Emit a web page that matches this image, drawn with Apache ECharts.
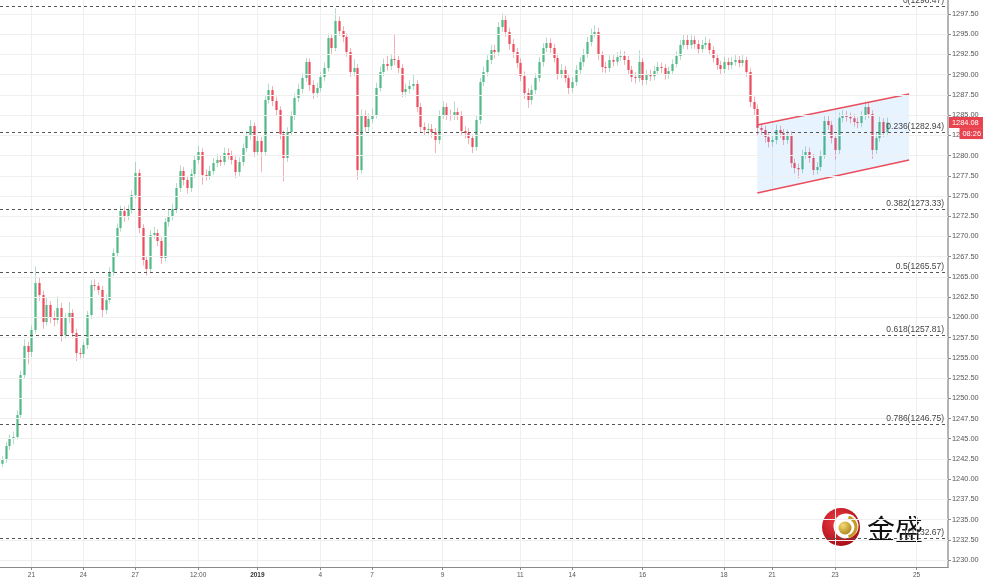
<!DOCTYPE html>
<html><head><meta charset="utf-8">
<script src="https://cdn.jsdelivr.net/npm/echarts@6/dist/echarts.min.js"></script>
<style>html,body{margin:0;padding:0;background:#fff}#c{width:983px;height:583px}</style>
</head><body><div id="c"></div>
<script>
const opens = [
1241.90,1242.36,1244.10,1244.96,1245.21,1247.93,1252.87,1256.46,1255.72,1258.44,
1264.25,1262.76,1259.42,1261.53,1259.92,1259.67,1261.15,1257.82,1259.92,1260.54,
1258.06,1255.59,1255.47,1256.58,1260.29,1264.00,1263.87,1263.38,1260.91,1262.14,
1265.61,1267.95,1271.04,1273.15,1272.53,1273.27,1275.12,1277.84,1271.04,1267.09,
1265.98,1270.18,1270.43,1269.44,1267.34,1271.79,1272.53,1273.39,1275.99,1278.09,
1276.98,1275.99,1277.72,1279.45,1280.44,1277.60,1277.47,1278.09,1279.08,1279.45,
1279.20,1280.32,1280.07,1279.45,1277.97,1279.20,1280.93,1282.42,1283.65,1280.44,
1281.80,1280.44,1286.87,1288.10,1286.74,1285.63,1282.66,1279.70,1282.91,1284.89,
1287.12,1288.23,1289.59,1291.57,1288.72,1287.73,1288.35,1289.71,1290.82,1294.53,
1293.30,1296.63,1295.40,1294.66,1292.80,1290.33,1290.82,1278.21,1285.01,1283.53,
1284.52,1285.01,1288.35,1290.33,1291.32,1291.07,1291.94,1291.81,1290.82,1287.86,
1288.23,1288.60,1288.85,1286.00,1283.53,1283.16,1283.28,1282.91,1281.92,1285.01,
1286.00,1285.01,1284.89,1285.38,1285.01,1283.04,1282.79,1282.17,1281.06,1284.40,
1289.09,1290.33,1291.81,1293.05,1292.80,1295.89,1296.76,1295.27,1293.79,1292.80,
1291.44,1289.83,1287.73,1286.87,1288.10,1289.59,1291.57,1293.30,1293.91,1293.30,
1292.06,1290.08,1290.58,1289.59,1288.35,1289.09,1290.58,1291.57,1292.55,1294.04,
1295.03,1295.27,1292.43,1290.95,1290.82,1291.81,1291.60,1292.18,1292.31,1291.81,
1290.58,1289.71,1289.59,1291.57,1289.34,1289.96,1289.80,1290.45,1290.95,1290.82,
1289.96,1290.45,1291.32,1292.31,1293.67,1294.29,1293.67,1294.29,1293.79,1293.17,
1293.67,1293.91,1293.05,1292.06,1291.19,1290.70,1291.57,1291.19,1291.57,1291.81,
1291.44,1291.81,1290.33,1286.62,1285.76,1283.41,1283.16,1282.29,1281.68,1281.92,
1283.16,1282.79,1281.92,1282.54,1279.08,1278.46,1278.30,1280.07,1280.44,1279.70,
1278.21,1278.59,1280.07,1284.27,1283.78,1282.17,1280.69,1284.64,1284.89,1284.77,
1284.60,1284.15,1284.02,1284.89,1286.00,1285.14,1280.69,1282.17,1284.15,1282.91
];
const closes = [
1242.36,1244.10,1244.96,1245.21,1247.93,1252.87,1256.46,1255.72,1258.44,1264.25,
1262.76,1259.42,1261.53,1259.92,1259.67,1261.15,1257.82,1259.92,1260.54,1258.06,
1255.59,1255.47,1256.58,1260.29,1264.00,1263.87,1263.38,1260.91,1262.14,1265.61,
1267.95,1271.04,1273.15,1272.53,1273.27,1275.12,1277.84,1271.04,1267.09,1265.98,
1270.18,1270.43,1269.44,1267.34,1271.79,1272.53,1273.39,1275.99,1278.09,1276.98,
1275.99,1277.72,1279.45,1280.44,1277.60,1277.47,1278.09,1279.08,1279.45,1279.20,
1280.32,1280.07,1279.45,1277.97,1279.20,1280.93,1282.42,1283.65,1280.44,1281.80,
1280.44,1286.87,1288.10,1286.74,1285.63,1282.66,1279.70,1282.91,1284.89,1287.12,
1288.23,1289.59,1291.57,1288.72,1287.73,1288.35,1289.71,1290.82,1294.53,1293.30,
1296.63,1295.40,1294.66,1292.80,1290.33,1290.82,1278.21,1285.01,1283.53,1284.52,
1285.01,1288.35,1290.33,1291.32,1291.07,1291.94,1291.81,1290.82,1287.86,1288.23,
1288.60,1288.85,1286.00,1283.53,1283.16,1283.28,1282.91,1281.92,1285.01,1286.00,
1285.01,1284.89,1285.38,1285.01,1283.04,1282.79,1282.17,1281.06,1284.40,1289.09,
1290.33,1291.81,1293.05,1292.80,1295.89,1296.76,1295.27,1293.79,1292.80,1291.44,
1289.83,1287.73,1286.87,1288.10,1289.59,1291.57,1293.30,1293.91,1293.30,1292.06,
1290.08,1290.58,1289.59,1288.35,1289.09,1290.58,1291.57,1292.55,1294.04,1295.03,
1295.27,1292.43,1290.95,1290.82,1291.81,1291.60,1292.18,1292.31,1291.81,1290.58,
1289.71,1289.59,1291.57,1289.34,1289.96,1289.80,1290.45,1290.95,1290.82,1289.96,
1290.45,1291.32,1292.31,1293.67,1294.29,1293.67,1294.29,1293.79,1293.17,1293.67,
1293.91,1293.05,1292.06,1291.19,1290.70,1291.57,1291.19,1291.57,1291.81,1291.44,
1291.81,1290.33,1286.62,1285.76,1283.41,1283.16,1282.29,1281.68,1281.92,1283.16,
1282.79,1281.92,1282.54,1279.08,1278.46,1278.30,1280.07,1280.44,1279.70,1278.21,
1278.59,1280.07,1284.27,1283.78,1282.17,1280.69,1284.64,1284.89,1284.77,1284.60,
1284.15,1284.02,1284.89,1286.00,1285.14,1280.69,1282.17,1284.15,1282.91,1284.08
];
const highs = [
1242.9,1244.6,1245.5,1245.9,1248.5,1253.4,1257.3,1257.0,1259.0,1266.3,
1265.0,1263.3,1262.4,1262.0,1260.8,1262.6,1261.8,1260.5,1261.9,1261.0,
1258.6,1256.2,1257.0,1260.8,1264.6,1264.7,1264.3,1263.9,1262.8,1266.2,
1268.5,1271.6,1273.8,1273.7,1273.9,1275.7,1279.2,1278.3,1271.5,1267.6,
1270.8,1271.2,1270.9,1269.9,1272.3,1273.3,1274.0,1276.6,1278.8,1278.6,
1277.5,1278.3,1280.0,1281.2,1280.9,1278.3,1278.7,1279.7,1280.2,1280.0,
1281.0,1280.9,1280.6,1279.9,1279.8,1281.5,1283.0,1284.4,1284.1,1282.4,
1282.3,1287.5,1288.9,1288.6,1287.3,1286.1,1283.1,1283.5,1285.5,1287.7,
1288.9,1290.2,1292.1,1292.0,1289.3,1289.0,1290.3,1291.5,1295.1,1295.0,
1298.2,1297.2,1296.0,1295.1,1293.3,1291.9,1291.3,1285.7,1285.6,1285.2,
1285.8,1289.0,1291.0,1292.0,1292.3,1292.6,1295.0,1292.3,1291.3,1288.9,
1289.3,1290.0,1289.3,1286.5,1284.1,1284.0,1283.9,1283.4,1285.6,1286.7,
1286.5,1285.7,1286.7,1285.9,1285.5,1283.6,1283.4,1282.6,1284.9,1289.6,
1291.0,1292.4,1293.7,1293.7,1296.5,1297.6,1297.3,1295.8,1294.4,1293.3,
1292.0,1290.4,1288.3,1288.7,1290.2,1292.2,1293.9,1294.6,1294.5,1293.8,
1292.6,1291.3,1291.1,1290.1,1289.7,1291.2,1292.2,1293.2,1294.7,1295.7,
1296.1,1295.8,1292.9,1291.6,1292.4,1292.4,1292.8,1293.0,1292.9,1292.3,
1291.1,1290.3,1293.0,1292.0,1290.6,1290.6,1291.1,1291.6,1291.5,1291.3,
1291.0,1291.9,1292.9,1294.3,1295.0,1294.9,1295.0,1294.8,1294.3,1294.3,
1294.7,1294.4,1293.5,1292.6,1291.7,1292.2,1292.1,1292.2,1292.5,1292.3,
1292.5,1292.2,1290.8,1287.3,1286.3,1284.0,1283.7,1282.8,1282.5,1283.8,
1283.7,1283.3,1283.2,1283.0,1279.6,1279.0,1280.7,1281.1,1281.0,1280.2,
1279.2,1280.6,1284.9,1284.9,1284.3,1282.6,1285.3,1285.6,1285.5,1285.3,
1285.1,1284.7,1285.5,1286.7,1286.5,1285.6,1282.8,1284.8,1284.6,1284.7
];
const lows = [
1241.5,1242.0,1243.6,1244.3,1244.9,1247.5,1252.4,1254.2,1255.1,1258.0,
1262.0,1258.6,1259.0,1259.3,1258.9,1259.2,1257.0,1257.4,1259.3,1257.4,
1254.6,1254.8,1255.0,1256.1,1259.8,1263.3,1262.8,1260.0,1260.4,1261.7,
1265.1,1267.5,1270.6,1271.8,1272.0,1272.8,1274.7,1270.4,1266.4,1265.2,
1265.5,1269.7,1268.8,1266.6,1266.9,1271.2,1272.0,1272.9,1275.5,1276.3,
1275.3,1275.5,1277.2,1279.0,1276.4,1276.9,1277.0,1277.6,1278.6,1278.7,
1278.8,1279.5,1278.9,1277.2,1277.5,1278.7,1280.5,1281.9,1279.8,1280.0,
1278.0,1280.0,1286.4,1286.1,1285.0,1282.0,1276.8,1279.2,1282.4,1284.4,
1286.6,1287.7,1289.1,1288.0,1287.0,1287.2,1287.9,1289.2,1290.4,1292.6,
1292.9,1294.8,1294.0,1292.2,1289.7,1289.8,1277.0,1277.8,1282.9,1283.0,
1284.0,1284.6,1287.9,1289.8,1290.5,1290.6,1291.2,1290.2,1287.2,1287.3,
1287.7,1288.1,1285.4,1282.9,1282.5,1282.6,1282.2,1280.3,1281.4,1284.5,
1284.4,1284.3,1284.4,1284.4,1282.4,1282.1,1281.4,1280.3,1280.6,1283.9,
1288.6,1289.8,1291.3,1292.0,1292.3,1295.3,1294.7,1293.1,1292.1,1290.8,
1289.2,1287.0,1285.9,1286.3,1287.6,1289.1,1291.0,1292.8,1292.7,1291.5,
1289.4,1289.6,1289.0,1287.6,1287.8,1288.6,1290.1,1291.0,1292.1,1293.5,
1294.6,1291.8,1290.3,1290.2,1290.3,1291.0,1291.1,1291.7,1291.2,1290.0,
1289.1,1288.9,1289.1,1288.7,1288.8,1289.2,1289.3,1290.0,1290.2,1289.4,
1289.5,1290.0,1290.9,1291.8,1293.2,1293.1,1293.2,1293.2,1292.6,1292.7,
1293.2,1292.5,1291.5,1290.6,1290.0,1290.2,1290.6,1290.7,1291.1,1290.9,
1291.0,1289.7,1286.0,1284.9,1282.4,1282.5,1281.6,1281.0,1281.1,1281.4,
1282.2,1281.3,1281.4,1278.5,1277.8,1277.2,1277.8,1279.6,1279.1,1277.6,
1277.7,1278.1,1279.6,1283.2,1281.5,1279.5,1280.2,1284.1,1284.2,1284.0,
1283.6,1283.4,1283.5,1284.4,1284.6,1279.6,1280.2,1281.7,1282.3,1282.4
];
const categoryCount = 256;
const xTickIndex = [8, 22, 36, 53, 69, 86, 100, 119, 140, 154, 173, 195, 208, 225, 247];
const xTickLabels = ['21', '24', '27', '12:00', '2019', '4', '7', '9', '11', '14', '16', '18', '21', '23', '25'];
const yTicks = [1230, 1232.5, 1235, 1237.5, 1240, 1242.5, 1245, 1247.5, 1250, 1252.5, 1255, 1257.5, 1260, 1262.5,
  1265, 1267.5, 1270, 1272.5, 1275, 1277.5, 1280, 1282.5, 1285, 1287.5, 1290, 1292.5, 1295, 1297.5];
const yMin = 1229.14, yMax = 1299.23;
const fibRatios = ['0', '0.236', '0.382', '0.5', '0.618', '0.786', '1'];
const fibPrices = [1298.47, 1282.94, 1273.33, 1265.57, 1257.81, 1246.75, 1232.67];
const channelX = [204, 245];
const channelUpper = [1283.78, 1287.61];
const channelLower = [1275.37, 1279.45];
const countdown = '08:26';

const UP = '#53b987', DOWN = '#eb4d5c';
const UP_WICK = 'rgba(83,185,135,0.45)', DOWN_WICK = 'rgba(235,77,92,0.45)';

const categories = Array.from({length: categoryCount}, (_, i) => String(i));
const isTick = (i) => xTickIndex.indexOf(i) >= 0;
const candleData = closes.map((c, i) => [i, opens[i], c, lows[i], highs[i]]);
const lastPrice = closes[closes.length - 1];

const chart = echarts.init(document.getElementById('c'), null, {renderer: 'canvas'});

function renderCandle(params, api) {
  const i = api.value(0), o = api.value(1), c = api.value(2), lo = api.value(3), hi = api.value(4);
  const pO = api.coord([i, o]), pC = api.coord([i, c]);
  const pL = api.coord([i, lo]), pH = api.coord([i, hi]);
  const bw = Math.max(1.5, api.size([1, 0])[0] * 0.6);
  const up = c >= o;
  const x = Math.round(pO[0]) + 0.5;
  const top = Math.min(pO[1], pC[1]);
  const h = Math.max(1, Math.abs(pO[1] - pC[1]));
  return {type: 'group', children: [
    {type: 'line', shape: {x1: x, y1: pH[1], x2: x, y2: pL[1]}, style: {stroke: up ? UP_WICK : DOWN_WICK, lineWidth: 1}},
    {type: 'rect', shape: {x: x - bw / 2, y: top, width: bw, height: h}, style: {fill: up ? UP : DOWN}}
  ]};
}

function renderChannel(params, api) {
  const u0 = api.coord([channelX[0], channelUpper[0]]), u1 = api.coord([channelX[1], channelUpper[1]]);
  const l0 = api.coord([channelX[0], channelLower[0]]), l1 = api.coord([channelX[1], channelLower[1]]);
  return {type: 'group', children: [
    {type: 'polygon', shape: {points: [u0, u1, l1, l0]}, style: {fill: 'rgba(33,150,243,0.11)'}},
    {type: 'line', shape: {x1: u0[0], y1: u0[1], x2: u1[0], y2: u1[1]}, style: {stroke: '#eb4d5c', lineWidth: 1.5}},
    {type: 'line', shape: {x1: l0[0], y1: l0[1], x2: l1[0], y2: l1[1]}, style: {stroke: '#eb4d5c', lineWidth: 1.5}}
  ]};
}

const option = {
  animation: false,
  backgroundColor: '#ffffff',
  textStyle: {fontFamily: '"Liberation Sans", Arial, sans-serif'},
  grid: {left: 0, right: 35, top: 0, bottom: 16},
  xAxis: {
    type: 'category', data: categories, boundaryGap: true,
    axisLine: {lineStyle: {color: '#8a8a8a', width: 1}},
    axisTick: {show: true, alignWithLabel: true, interval: (i) => isTick(i), length: 3, lineStyle: {color: '#8a8a8a'}},
    axisLabel: {
      interval: (i) => isTick(i), margin: 5, fontSize: 6.5, color: '#555',
      formatter: (v, idx) => {
        const k = xTickIndex.indexOf(Number(v));
        if (k < 0) return '';
        const t = xTickLabels[k];
        return t === '2019' ? '{b|' + t + '}' : t;
      },
      rich: {b: {fontWeight: 'bold', fontSize: 6.5, color: '#333'}}
    },
    splitLine: {show: true, alignWithLabel: true, interval: (i) => isTick(i), lineStyle: {color: '#efefef', width: 1}}
  },
  yAxis: {
    type: 'value', position: 'right', min: yMin, max: yMax, scale: true,
    axisLine: {show: true, lineStyle: {color: '#b3b3b3', width: 2}},
    axisTick: {show: true, customValues: yTicks, length: 3, lineStyle: {color: '#8a8a8a'}},
    axisLabel: {show: true, customValues: yTicks, formatter: (v) => Number(v).toFixed(2), fontSize: 7.4, color: '#555', margin: 4},
    splitLine: {show: false}
  },
  series: [
    {
      name: 'grid', type: 'line', data: closes, z: 0, silent: true, showSymbol: false,
      lineStyle: {opacity: 0}, tooltip: {show: false},
      markLine: {
        silent: true, symbol: 'none', animation: false,
        label: {show: false},
        lineStyle: {color: '#efefef', type: 'solid', width: 1},
        data: yTicks.map(v => ({yAxis: v}))
      }
    },
    {
      name: 'fib', type: 'line', data: closes, z: 1, silent: true, showSymbol: false,
      lineStyle: {opacity: 0},
      markLine: {
        silent: true, symbol: 'none', animation: false,
        lineStyle: {color: '#555', type: [3, 3], width: 1},
        label: {show: true, position: 'insideEndTop', distance: [4, 1], fontSize: 8.5, color: '#444'},
        data: fibPrices.map((p, k) => ({yAxis: p, label: {formatter: fibRatios[k] + '(' + p.toFixed(2) + ')'}}))
      }
    },
    {
      name: 'XAUUSD', type: 'custom', z: 3, renderItem: renderCandle,
      encode: {x: 0, y: [1, 2, 3, 4]},
      data: candleData
    },
    {
      name: 'channel', type: 'custom', z: 4, silent: true, renderItem: renderChannel,
      encode: {x: 0, y: 1},
      data: [[channelX[0], channelUpper[0]]]
    },
    {
      name: 'lastPrice', type: 'line', data: [], z: 10, silent: true, showSymbol: false,
      markLine: {
        silent: true, symbol: 'none', animation: false,
        lineStyle: {color: 'rgba(0,0,0,0)', width: 0, opacity: 1},
        label: {
          show: true, position: 'end', distance: 1,
          padding: [11, 0, 0, 0],
          formatter: () => '{a|' + lastPrice.toFixed(2) + '}\n{b|' + countdown + '}',
          rich: {
            a: {backgroundColor: '#e8434f', color: '#fff', fontSize: 7.4, padding: [2, 3, 2, 3], lineHeight: 11, width: 28, align: 'left'},
            b: {backgroundColor: '#e8434f', color: '#fff', fontSize: 7.4, padding: [2, 2, 2, 3], lineHeight: 11, align: 'right'}
          }
        },
        data: [{yAxis: lastPrice}]
      }
    }
  ],
  graphic: [
    {type: 'group', z: 100, children: [
      {type: 'circle', shape: {cx: 841, cy: 527, r: 19},
        style: {fill: new echarts.graphic.RadialGradient(0.4, 0.35, 0.75, [{offset: 0, color: '#f03a44'}, {offset: 1, color: '#a00a12'}])}},
      {type: 'circle', shape: {cx: 846, cy: 526, r: 12.5}, style: {fill: '#ffffff'}},
      {type: 'arc', shape: {cx: 846, cy: 527, r: 10, startAngle: -Math.PI * 0.42, endAngle: Math.PI * 0.42},
        style: {stroke: '#c49a22', lineWidth: 3, fill: null}},
      {type: 'circle', shape: {cx: 845, cy: 528, r: 6.5},
        style: {fill: new echarts.graphic.RadialGradient(0.35, 0.3, 0.8, [{offset: 0, color: '#f5dc70'}, {offset: 1, color: '#a8801a'}])}},
      {type: 'text', style: {text: '金盛', x: 867, y: 529, fontSize: 28, fontFamily: '"Noto Sans CJK SC"', fill: '#111', verticalAlign: 'middle', align: 'left'}}
    ]}
  ]
};
chart.setOption(option);
</script>
</body></html>
